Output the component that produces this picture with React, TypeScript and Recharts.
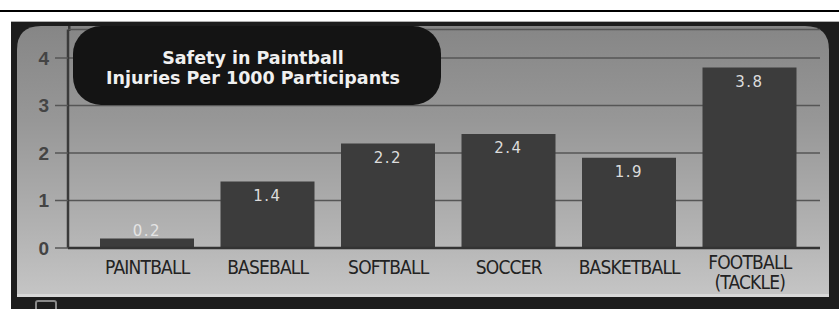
import { Bar, BarChart, CartesianGrid, LabelList, XAxis, YAxis } from 'recharts';

// Injuries per 1000 participants
const sports = ['PAINTBALL', 'BASEBALL', 'SOFTBALL', 'SOCCER', 'BASKETBALL', 'FOOTBALL (TACKLE)'];
const injuries = [0.2, 1.4, 2.2, 2.4, 1.9, 3.8];
const yTicks = [0, 1, 2, 3, 4];
const titleLines = ['Safety in Paintball', 'Injuries Per 1000 Participants'];

const W = 839;
const H = 309;
const LABEL_FONT = '"Liberation Sans Narrow", "DejaVu Sans Condensed", "Liberation Sans", sans-serif';

function SportTick(props: any) {
  const { x, y, payload } = props;
  const lines = String(payload.value).split(' ');
  const first = lines.length > 1 ? 21 : 26;
  return (
    <text
      x={x}
      y={y}
      textAnchor="middle"
      fill="#222"
      fontFamily={LABEL_FONT}
      fontSize={19}
      letterSpacing={-0.8}
    >
      {lines.map((l, i) => (
        <tspan key={l} x={x} y={y + first + i * 20}>
          {l}
        </tspan>
      ))}
    </text>
  );
}

function ValueLabel(props: any) {
  const { x, y, width, height, value } = props;
  const inside = height > 30;
  return (
    <text
      x={x + width / 2}
      y={inside ? y + 19 : y - 3}
      textAnchor="middle"
      fill={inside ? '#dcdcdc' : '#e4e4e4'}
      fontFamily='"DejaVu Sans", sans-serif'
      fontSize={15}
      letterSpacing={1.5}
    >
      {Number(value).toFixed(1)}
    </text>
  );
}

export default function App() {
  const data = sports.map((s, i) => ({ sport: s, value: injuries[i] }));

  return (
    <div style={{ position: 'fixed', left: 0, top: 0, width: W, height: H, background: '#fff', overflow: 'hidden' }}>
      {/* photo frame / panel background */}
      <svg width={W} height={H} style={{ position: 'absolute', left: 0, top: 0 }}>
        <defs>
          <linearGradient id="panel" x1="0" y1="0" x2="0" y2="1">
            <stop offset="0%" stopColor="#868686" />
            <stop offset="35%" stopColor="#979797" />
            <stop offset="75%" stopColor="#b2b2b2" />
            <stop offset="100%" stopColor="#c5c5c5" />
          </linearGradient>
        </defs>
        <rect x={0} y={10} width={W} height={2} fill="#000" />
        <rect x={11} y={21} width={W - 11} height={H - 21} fill="#1d1d1d" />
        <rect x={11} y={21} width={W - 11} height={1} fill="#b0b0b0" />
        <path d="M17 296 L17 50 Q17 26 41 26 L805 26 Q829 26 829 50 L829 296 Z" fill="url(#panel)" />
        <rect x={17} y={294} width={812} height={3} fill="#d8d8d8" />
        <rect x={68} y={26} width={2.5} height={5} fill="#3a3a3a" />
        <rect x={36} y={301} width={20} height={12} rx={2} fill="none" stroke="#8a8a8a" strokeWidth={2} />
      </svg>

      <div style={{ position: 'absolute', left: 0, top: 0 }}>
        <BarChart width={W} height={H} data={data} margin={{ top: 29.5, right: 19, bottom: 14, left: 18 }}>
          <CartesianGrid vertical={false} stroke="#565656" strokeWidth={1.5} />
          <XAxis
            dataKey="sport"
            interval={0}
            tickLine={false}
            tickSize={0}
            tickMargin={0}
            height={47}
            padding={{ left: 19, right: 10 }}
            axisLine={{ stroke: '#333', strokeWidth: 2.5 }}
            tick={<SportTick />}
          />
          <YAxis
            domain={[0, 4.6]}
            ticks={yTicks}
            width={50}
            tickSize={13}
            tickMargin={6}
            axisLine={{ stroke: '#3a3a3a', strokeWidth: 2.5 }}
            tickLine={{ stroke: '#565656', strokeWidth: 1.5 }}
            tick={{ fill: '#444', fontSize: 19, fontWeight: 700, fontFamily: '"Liberation Sans", sans-serif' }}
          />
          <Bar dataKey="value" fill="#3c3c3c" barSize={94} isAnimationActive={false}>
            <LabelList dataKey="value" content={<ValueLabel />} />
          </Bar>
        </BarChart>
      </div>

      {/* title badge sits on top of the grid */}
      <svg width={W} height={H} style={{ position: 'absolute', left: 0, top: 0, pointerEvents: 'none' }}>
        <rect x={73} y={26} width={368} height={79} rx={28} fill="#141414" />
        <text
          x={253}
          textAnchor="middle"
          fill="#f0f0f0"
          fontFamily='"DejaVu Sans", sans-serif'
          fontWeight={700}
          fontSize={17.5}
        >
          {titleLines.map((l, i) => (
            <tspan key={l} x={253} y={64 + i * 20}>
              {l}
            </tspan>
          ))}
        </text>
      </svg>
    </div>
  );
}
